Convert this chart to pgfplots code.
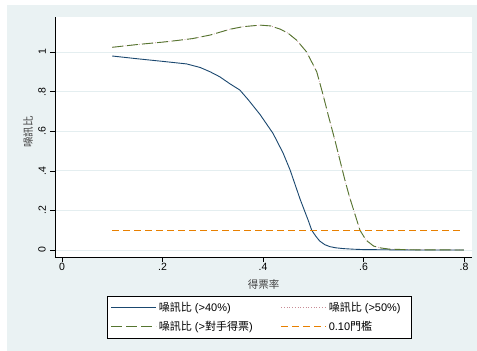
\documentclass[border=0pt]{standalone}
\usepackage{fontspec}
\setmainfont{Liberation Sans}
\newfontfamily\cjk{Noto Sans CJK TC}
\usepackage{pgfplots}
\pgfplotsset{compat=1.18}
\definecolor{bgc}{RGB}{234,242,243}
\definecolor{gridc}{RGB}{228,238,240}
\definecolor{navy}{RGB}{26,71,111}
\definecolor{pinkdot}{RGB}{200,140,150}
\definecolor{fgreen}{RGB}{85,117,47}
\definecolor{dkorange}{RGB}{232,128,0}
\begin{document}
\begin{tikzpicture}[x=1pt,y=1pt]
\fill[white] (0,0) rectangle (477,351);
\fill[bgc] (7,0) rectangle (477,346);
\useasboundingbox (0,0) rectangle (477,351);
\begin{axis}[
  at={(55pt,94pt)}, anchor=south west,
  scale only axis, width=417pt, height=240pt,
  xmin=-0.0139, xmax=0.816, ymin=-0.0354, ymax=1.177,
  axis background/.style={fill=white},
  axis x line*=bottom, axis y line*=left,
  axis line style={black, line width=0.6pt},
  tick align=outside, major tick length=5pt,
  tick style={black, line width=0.6pt},
  xtick={0,0.2,0.4,0.6,0.8}, xticklabels={0,.2,.4,.6,.8},
  ytick={0,0.2,0.4,0.6,0.8,1}, yticklabels={0,.2,.4,.6,.8,1},
  ymajorgrids, grid style={gridc, line width=0.8pt},
  xticklabel style={font=\fontsize{10.5}{12}\selectfont, inner sep=1pt},
  yticklabel style={font=\fontsize{10.5}{12}\selectfont, xshift=-4pt, rotate=90, anchor=south, inner sep=0pt},
  xlabel={\cjk 得票率}, ylabel={\cjk 噪訊比},
  xlabel style={at={(axis description cs:0.5,-0.1125)}, anchor=center, font=\fontsize{10.5}{12}\selectfont, text=black!75},
  ylabel style={at={(axis description cs:-0.0647,0.521)}, anchor=center, rotate=0, font=\fontsize{10.5}{12}\selectfont, text=black!75},
  legend columns=2,
  legend cell align=left,
  legend image code/.code={\draw[#1] (0pt,0pt) -- (45pt,0pt);},
  legend style={at={(axis description cs:0.489,-0.1625)}, anchor=north,
    draw=black, fill=white, line width=0.6pt,
    font=\fontsize{11}{13}\selectfont,
    inner xsep=4pt, inner ysep=4pt, row sep=4pt,
    /tikz/every even column/.append style={column sep=6pt}},
]
\addplot[navy, line width=0.9pt, line join=round] coordinates {
(0.10,0.980) (0.15,0.966) (0.20,0.953) (0.248,0.940) (0.275,0.922) (0.295,0.900)
(0.314,0.875) (0.334,0.840) (0.354,0.808) (0.371,0.758) (0.394,0.685) (0.42,0.589)
(0.44,0.49) (0.454,0.404) (0.474,0.256) (0.49,0.15) (0.497,0.10) (0.505,0.07)
(0.513,0.045) (0.523,0.027) (0.533,0.017) (0.545,0.011) (0.56,0.007) (0.58,0.004)
(0.60,0.002) (0.65,0.001) (0.70,0.0) (0.80,0.0)};
\addlegendentry{\makebox[114pt][l]{{\cjk 噪訊比} (>40\%)}}
\addplot[pinkdot, line width=0.7pt, dotted] coordinates {
(0.10,1.024) (0.15,1.038) (0.20,1.05) (0.228,1.058) (0.26,1.068) (0.295,1.086)
(0.314,1.10) (0.334,1.115) (0.36,1.128) (0.394,1.136) (0.415,1.132) (0.434,1.116)
(0.45,1.095) (0.467,1.06) (0.487,1.0) (0.507,0.90) (0.52,0.78) (0.53,0.68)
(0.543,0.556) (0.563,0.354) (0.572,0.27) (0.593,0.10) (0.605,0.05) (0.62,0.02)
(0.635,0.01) (0.653,0.004) (0.70,0.001) (0.80,0.0)};
\addlegendentry{\makebox[76pt][l]{{\cjk 噪訊比} (>50\%)}}
\addplot[fgreen, line width=0.9pt, dash pattern=on 11pt off 4pt] coordinates {
(0.10,1.024) (0.15,1.038) (0.20,1.05) (0.228,1.058) (0.26,1.068) (0.295,1.086)
(0.314,1.10) (0.334,1.115) (0.36,1.128) (0.394,1.136) (0.415,1.132) (0.434,1.116)
(0.45,1.095) (0.467,1.06) (0.487,1.0) (0.507,0.90) (0.52,0.78) (0.53,0.68)
(0.543,0.556) (0.563,0.354) (0.572,0.27) (0.593,0.10) (0.605,0.05) (0.62,0.02)
(0.635,0.01) (0.653,0.004) (0.70,0.001) (0.80,0.0)};
\addlegendentry{\makebox[114pt][l]{{\cjk 噪訊比} (>{\cjk 對手得票})}}
\addplot[dkorange, line width=0.9pt, dash pattern=on 7pt off 4pt] coordinates {
(0.10,0.10) (0.80,0.10)};
\addlegendentry{\makebox[76pt][l]{0.10{\cjk 門檻}}}
\end{axis}
\end{tikzpicture}
\end{document}
